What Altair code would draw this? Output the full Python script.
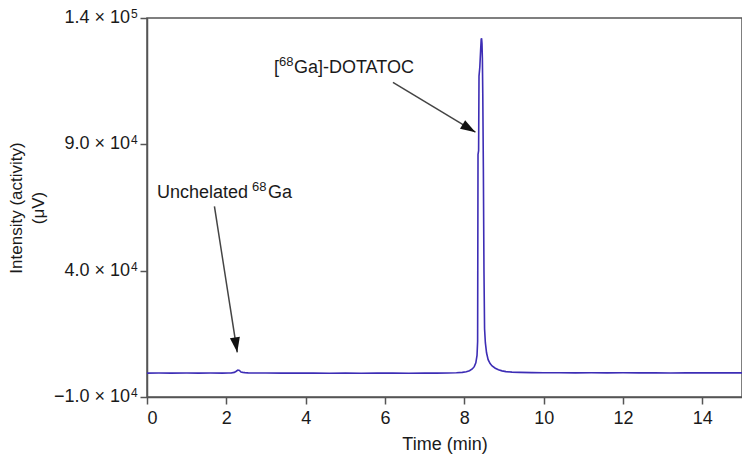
import altair as alt
import pandas as pd

# ---- chromatogram trace ----
times = [0.0, 0.3, 0.6, 1.0, 1.3, 1.6, 1.9, 2.05, 2.12, 2.2, 2.25, 2.29, 2.33, 2.37, 2.42, 2.47, 2.55, 2.7,
         3.0, 3.4, 3.8, 4.2, 4.6, 5.0, 5.4, 5.8, 6.2, 6.6, 7.0, 7.3, 7.6, 7.8, 7.95, 8.05, 8.13, 8.2, 8.25,
         8.29, 8.32, 8.335, 8.345, 8.36, 8.37, 8.39, 8.41, 8.425, 8.435, 8.445, 8.455, 8.465, 8.48, 8.495,
         8.51, 8.53, 8.56, 8.6, 8.65, 8.7, 8.78, 8.86, 8.95, 9.05, 9.2, 9.4, 9.7, 10.0, 10.4, 10.8, 11.2,
         11.6, 12.0, 12.4, 12.8, 13.2, 13.6, 14.0, 14.4, 14.8, 15.0]
intensity = [-550, -520, -560, -530, -540, -520, -540, -520, -480, -250, 200, 650, 500, -100, -250, -350, -450, -500,
             -520, -560, -540, -560, -580, -560, -590, -570, -560, -580, -560, -540, -480, -380, -250, 0, 400, 1100, 2000,
             3500, 6500, 12000, 86000, 87500, 117000, 120500, 127000, 131500, 132000, 130000, 124000, 110000, 80000, 40000,
             17000, 11500, 7500, 4800, 3200, 2300, 1400, 800, 350, 50, -150, -250, -350, -380, -420, -450, -400,
             -460, -430, -470, -440, -480, -450, -470, -440, -460, -450]

# ---- axes ----
x_ticks = [0, 2, 4, 6, 8, 10, 12, 14]
y_ticks = [-10000, 40000, 90000, 140000]
y_tick_mantissa = ["\u22121.0 \u00d7 10", "4.0 \u00d7 10", "9.0 \u00d7 10", "1.4 \u00d7 10"]
y_tick_exponent = ["4", "4", "4", "5"]

# ---- annotations (pieces: text before superscript, superscript, text after) ----
ann_pre = ["Unchelated", "["]
ann_sup = ["68", "68"]
ann_post = ["Ga", "Ga]-DOTATOC"]
ann_t = [0.25, 3.2]
ann_v = [68900, 118400]
arrow_t1 = [1.70, 6.20]
arrow_v1 = [65400, 114500]
arrow_t2 = [2.275, 8.28]
arrow_v2 = [7670, 94800]
arrow_angle = [171, 121]

FONT = "Liberation Sans"
FS = 18
SUP_FS = 12
ANN_SUP_FS = 13
TEXT_COL = "#1a1a1a"

trace = pd.DataFrame({"time": times, "intensity": intensity})
arrows = pd.DataFrame({"t1": arrow_t1, "v1": arrow_v1, "t2": arrow_t2, "v2": arrow_v2})
yt = pd.DataFrame({"v": y_ticks, "m": y_tick_mantissa, "e": y_tick_exponent})

xscale = alt.Scale(domain=[0, 15], nice=False, zero=False)
yscale = alt.Scale(domain=[-10000, 140000], nice=False, zero=False)

line = alt.Chart(trace).mark_line(color="#3d2db5", strokeWidth=1.6).encode(
    x=alt.X("time:Q", scale=xscale,
            axis=alt.Axis(values=x_ticks, title="Time (min)", labelPadding=5, titlePadding=8)),
    y=alt.Y("intensity:Q", scale=yscale,
            axis=alt.Axis(values=y_ticks, labels=False,
                          title=["Intensity (activity)", "(\u03bcV)"], titlePadding=92,
                          titleLineHeight=22, titleFontSize=17)),
)

# y tick labels with real superscripts
ylab_main = alt.Chart(yt).mark_text(
    align="right", baseline="middle", font=FONT, fontSize=FS, color=TEXT_COL
).encode(x=alt.value(-17), y=alt.Y("v:Q"), text="m:N")
ylab_sup = alt.Chart(yt).mark_text(
    align="left", baseline="middle", font=FONT, fontSize=SUP_FS, color=TEXT_COL, dy=-4
).encode(x=alt.value(-16), y=alt.Y("v:Q"), text="e:N")

rules = alt.Chart(arrows).mark_rule(color="#444444", strokeWidth=1.5).encode(
    x="t1:Q", y="v1:Q", x2="t2:Q", y2="v2:Q"
)

heads = []
for i in range(len(arrow_t2)):
    heads.append(
        alt.Chart(arrows.iloc[[i]]).mark_point(
            shape="M0,0L-1,3L1,3Z", filled=True, color="#111111", opacity=1,
            size=100, angle=arrow_angle[i], strokeWidth=0
        ).encode(x="t2:Q", y="v2:Q")
    )

# annotation texts built from pieces: offsets (dx) are styling
pre_dx = [0, 0]
sup_dx = [95, 5]
post_dx = [111, 20]
ann_layers = []
for i in range(len(ann_t)):
    d = pd.DataFrame({"t": [ann_t[i]], "v": [ann_v[i]], "pre": [ann_pre[i]],
                      "sup": [ann_sup[i]], "post": [ann_post[i]]})
    base = alt.Chart(d)
    ann_layers.append(base.mark_text(align="left", baseline="alphabetic", font=FONT, fontSize=FS,
                                     color=TEXT_COL, dx=pre_dx[i]).encode(x="t:Q", y="v:Q", text="pre:N"))
    ann_layers.append(base.mark_text(align="left", baseline="alphabetic", font=FONT, fontSize=ANN_SUP_FS,
                                     color=TEXT_COL, dx=sup_dx[i], dy=-7).encode(x="t:Q", y="v:Q", text="sup:N"))
    ann_layers.append(base.mark_text(align="left", baseline="alphabetic", font=FONT, fontSize=FS,
                                     color=TEXT_COL, dx=post_dx[i]).encode(x="t:Q", y="v:Q", text="post:N"))

chart = alt.layer(line, ylab_main, ylab_sup, rules, *heads, *ann_layers).properties(
    width=595, height=379,
    autosize=alt.AutoSizeParams(type="none"),
    padding={"left": 139, "top": 10, "right": 0, "bottom": 61},
).configure_view(
    stroke="#555555", strokeWidth=1.5
).configure_axis(
    grid=False, domainColor="#555555", domainWidth=1.5, tickColor="#555555", tickWidth=1.5,
    tickSize=7, labelFont=FONT, labelFontSize=FS, labelColor=TEXT_COL,
    titleFont=FONT, titleFontSize=FS, titleFontWeight="normal", titleColor=TEXT_COL
)

chart.save("out.html", embed_options={"renderer": "svg", "actions": False})
